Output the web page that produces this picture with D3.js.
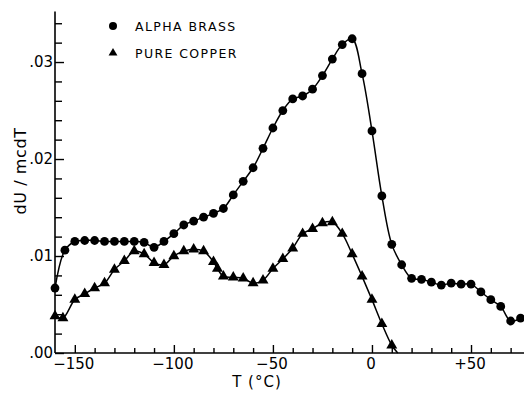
<!DOCTYPE html>
<html lang="en">
  <head>
    <meta charset="utf-8">
    <title>dU / mcdT</title>
    <script src="https://d3js.org/d3.v7.min.js"></script>
    <style>
      body { margin: 0; background: #fff; }
      svg text { font-family: "DejaVu Sans", sans-serif; fill: #000; }
    </style>
  </head>
  <body>
    <script>
    // data
    let brassT = [-160, -155, -150, -145, -140, -135, -130, -125, -120, -115, -110, -105,
                  -100, -95, -90, -85, -80, -75, -70, -65, -60, -55, -50, -45, -40, -35,
                  -30, -25, -20, -15, -10, -5, 0, 5, 10, 15, 20, 25, 30, 35, 40, 45, 50,
                  55, 60, 65, 70, 75];
    let brassU = [0.0067, 0.0106, 0.0115, 0.0116, 0.0116, 0.0115, 0.0115, 0.0115, 0.0115, 0.0114, 0.0109, 0.0115,
                  0.0123, 0.0132, 0.0136, 0.0140, 0.0144, 0.0149, 0.0163, 0.0177, 0.0191, 0.0211, 0.0232, 0.0250, 0.0262, 0.0265,
                  0.0272, 0.0286, 0.0303, 0.0318, 0.0324, 0.0288, 0.0229, 0.0162, 0.0112, 0.0091, 0.0077, 0.0076, 0.0073, 0.0070, 0.0072, 0.0071, 0.0071,
                  0.0063, 0.0055, 0.0048, 0.0033, 0.0036];

    let copperT = [-160, -156, -150, -145, -140, -135, -130, -125, -120, -115, -110, -105,
                   -100, -95, -90, -85, -80, -78, -75, -70, -65, -60, -55, -50, -45, -40,
                   -35, -30, -25, -20, -15, -10, -5, 0, 5, 10];
    let copperU = [0.0038, 0.0036, 0.0055, 0.0061, 0.0067, 0.0072, 0.0086, 0.0095, 0.0105, 0.0102, 0.0093, 0.0091,
                   0.0100, 0.0105, 0.0107, 0.0105, 0.0094, 0.0087, 0.0079, 0.0078, 0.0077, 0.0072, 0.0075, 0.0087, 0.0097, 0.0108,
                   0.0123, 0.0128, 0.0134, 0.0135, 0.0123, 0.0102, 0.0079, 0.0055, 0.0030, 0.0008];
    // where the copper curve meets the axis
    let copperTailT = [13];
    let copperTailU = [0];

    let xMajorTicks = [-150, -100, -50, 0, 50];
    let xTickLabels = ["\u2212150", "\u2212100", "\u221250", "0", "+50"];
    let yMajorTicks = [0, 0.01, 0.02, 0.03];
    let yTickLabels = [".00", ".01", ".02", ".03"];

    let seriesNames = ["ALPHA BRASS", "PURE COPPER"];

    //+++++++++++++++++++++++++++++++++++
    let w = 524;
    let h = 393;

    let svg = d3.select("body")
                .append("svg")
                .attr("width", w)
                .attr("height", h);

    // SCALES
    let xScale = d3.scaleLinear()
                   .domain([-160, 77])
                   .range([55, 524.5]);
    let yScale = d3.scaleLinear()
                   .domain([0, 0.0352])
                   .range([353, 11.6]);

    // AXES (ticks point inward)
    let xMinor = d3.range(-150, 71, 10).filter(t => xMajorTicks.indexOf(t) < 0);
    let yMinor = d3.range(1, 18).map(i => i * 0.002).filter(v => Math.abs(v * 100 - Math.round(v * 100)) > 1e-6);

    let xAxisMajor = d3.axisTop(xScale).tickValues(xMajorTicks).tickSize(8).tickFormat("");
    let xAxisMinor = d3.axisTop(xScale).tickValues(xMinor).tickSize(5).tickFormat("");
    let yAxisMajor = d3.axisRight(yScale).tickValues(yMajorTicks).tickSize(9).tickFormat("");
    let yAxisMinor = d3.axisRight(yScale).tickValues(yMinor).tickSize(7).tickFormat("");

    [xAxisMajor, xAxisMinor].forEach(function (ax) {
      svg.append("g")
         .attr("transform", "translate(0," + yScale(0) + ")")
         .call(ax);
    });
    [yAxisMajor, yAxisMinor].forEach(function (ax) {
      svg.append("g")
         .attr("transform", "translate(" + xScale(-160) + ",0)")
         .call(ax);
    });
    svg.selectAll(".domain").remove();
    svg.selectAll(".tick line").attr("stroke", "#000").attr("stroke-width", 1.4);

    // axis lines
    svg.append("line")
       .attr("x1", xScale(-160)).attr("x2", xScale(77))
       .attr("y1", yScale(0)).attr("y2", yScale(0))
       .attr("stroke", "#000").attr("stroke-width", 1.6);
    svg.append("line")
       .attr("x1", xScale(-160)).attr("x2", xScale(-160))
       .attr("y1", yScale(0)).attr("y2", yScale(0.0352))
       .attr("stroke", "#000").attr("stroke-width", 1.6);

    // tick labels
    svg.selectAll(".xlab")
       .data(xMajorTicks)
       .enter()
       .append("text")
       .attr("class", "xlab")
       .attr("x", d => xScale(d) - 1)
       .attr("y", yScale(0) + 16)
       .attr("text-anchor", "middle")
       .attr("font-size", "15px")
       .text((d, i) => xTickLabels[i]);

    svg.selectAll(".ylab")
       .data(yMajorTicks)
       .enter()
       .append("text")
       .attr("class", "ylab")
       .attr("x", xScale(-160) - 2)
       .attr("y", d => yScale(d) + 5)
       .attr("text-anchor", "end")
       .attr("font-size", "15px")
       .text((d, i) => yTickLabels[i]);

    // axis titles
    svg.append("text")
       .attr("x", 257)
       .attr("y", 387)
       .attr("text-anchor", "middle")
       .attr("font-size", "15px")
       .attr("letter-spacing", "1px")
       .text("T (\u00b0C)");

    svg.append("text")
       .attr("transform", "translate(26,171) rotate(-90)")
       .attr("text-anchor", "middle")
       .attr("font-size", "16px")
       .attr("letter-spacing", "0.6px")
       .text("dU / mcdT");

    // CURVES
    let brass = brassT.map((t, i) => [t, brassU[i]]);
    let copper = copperT.map((t, i) => [t, copperU[i]]);
    let copperCurve = copper.concat(copperTailT.map((t, i) => [t, copperTailU[i]]));

    let line = d3.line()
                 .x(d => xScale(d[0]))
                 .y(d => yScale(d[1]))
                 .curve(d3.curveCatmullRom.alpha(0.5));

    svg.append("path")
       .datum(brass)
       .attr("d", line)
       .attr("fill", "none")
       .attr("stroke", "#000")
       .attr("stroke-width", 1.5);

    svg.append("path")
       .datum(copperCurve)
       .attr("d", line)
       .attr("fill", "none")
       .attr("stroke", "#000")
       .attr("stroke-width", 1.5);

    // markers
    svg.selectAll(".brass")
       .data(brass)
       .enter()
       .append("circle")
       .attr("class", "brass")
       .attr("cx", d => xScale(d[0]))
       .attr("cy", d => yScale(d[1]))
       .attr("r", 4.4)
       .attr("fill", "#000");

    let tri = d3.symbol().type(d3.symbolTriangle).size(52);
    svg.selectAll(".copper")
       .data(copper)
       .enter()
       .append("path")
       .attr("class", "copper")
       .attr("d", tri)
       .attr("transform", d => "translate(" + xScale(d[0]) + "," + yScale(d[1]) + ")")
       .attr("fill", "#000");

    // LEGEND
    let legend = svg.append("g").attr("transform", "translate(113,26)");
    legend.append("circle").attr("cx", 0).attr("cy", 0).attr("r", 4).attr("fill", "#000");
    legend.append("path")
          .attr("d", d3.symbol().type(d3.symbolTriangle).size(34))
          .attr("transform", "translate(0,27)")
          .attr("fill", "#000");
    legend.selectAll("text")
          .data(seriesNames)
          .enter()
          .append("text")
          .attr("x", 22)
          .attr("y", (d, i) => i * 27 + 4.5)
          .attr("font-size", "12.5px")
          .attr("letter-spacing", "1.4px")
          .text(d => d);
    </script>
  </body>
</html>
